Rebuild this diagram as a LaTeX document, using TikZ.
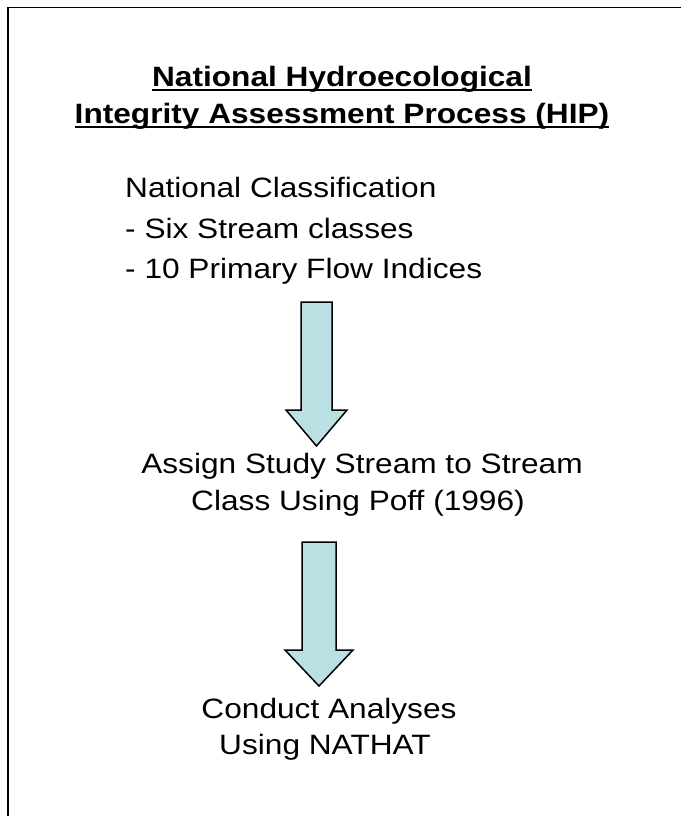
\documentclass[tikz,border=0pt]{standalone}
\usepackage{fontspec}
\setmainfont{Liberation Sans}[FakeStretch=1.13]
\definecolor{arrowfill}{RGB}{187,224,227}
\begin{document}
\begin{tikzpicture}[x=1pt,y=-1pt,
  txt/.style={inner sep=0pt, font=\fontsize{28}{34}\selectfont},
  ttl/.style={txt, font=\fontsize{28}{34}\selectfont\bfseries},
  uline/.style={line width=2pt},
  blockarrow/.style={draw=black, line width=1.5pt, fill=arrowfill, line join=miter},
  frame/.style={line width=1.5pt}]
\useasboundingbox (0,0) rectangle (681,816);
% frame
\draw[frame] (8,816) -- (8,7.5) -- (681,7.5);
% title
\node[ttl, anchor=base] (t1) at (342,86) {National Hydroecological};
\node[ttl, anchor=base] (t2) at (342,123) {Integrity Assessment Process (HIP)};
\draw[uline] ([yshift=-3.5pt]t1.base west) -- ([yshift=-3.5pt]t1.base east);
\draw[uline] ([yshift=-3.5pt]t2.base west) -- ([yshift=-3.5pt]t2.base east);
% classification list
\node[txt, anchor=base west] (c1) at (125,197) {National Classification};
\node[txt, anchor=base west] (c2) at (125,238) {- Six Stream classes};
\node[txt, anchor=base west] (c3) at (125,278) {- 10 Primary Flow Indices};
% arrow 1
\draw[blockarrow] (301,302) -- (332,302) -- (332,410) -- (347,410) -- (316.5,446)
  -- (286,410) -- (301,410) -- cycle;
% assign
\node[txt, anchor=base] (a1) at (362,473) {Assign Study Stream to Stream};
\node[txt, anchor=base] (a2) at (358,510) {Class Using Poff (1996)};
% arrow 2
\draw[blockarrow] (302,542) -- (336,542) -- (336,650) -- (353,650) -- (319,686)
  -- (285,650) -- (302,650) -- cycle;
% conduct
\node[txt, anchor=base] (d1) at (329,718) {Conduct Analyses};
\node[txt, anchor=base] (d2) at (325,754) {Using NATHAT};
\end{tikzpicture}
\end{document}
